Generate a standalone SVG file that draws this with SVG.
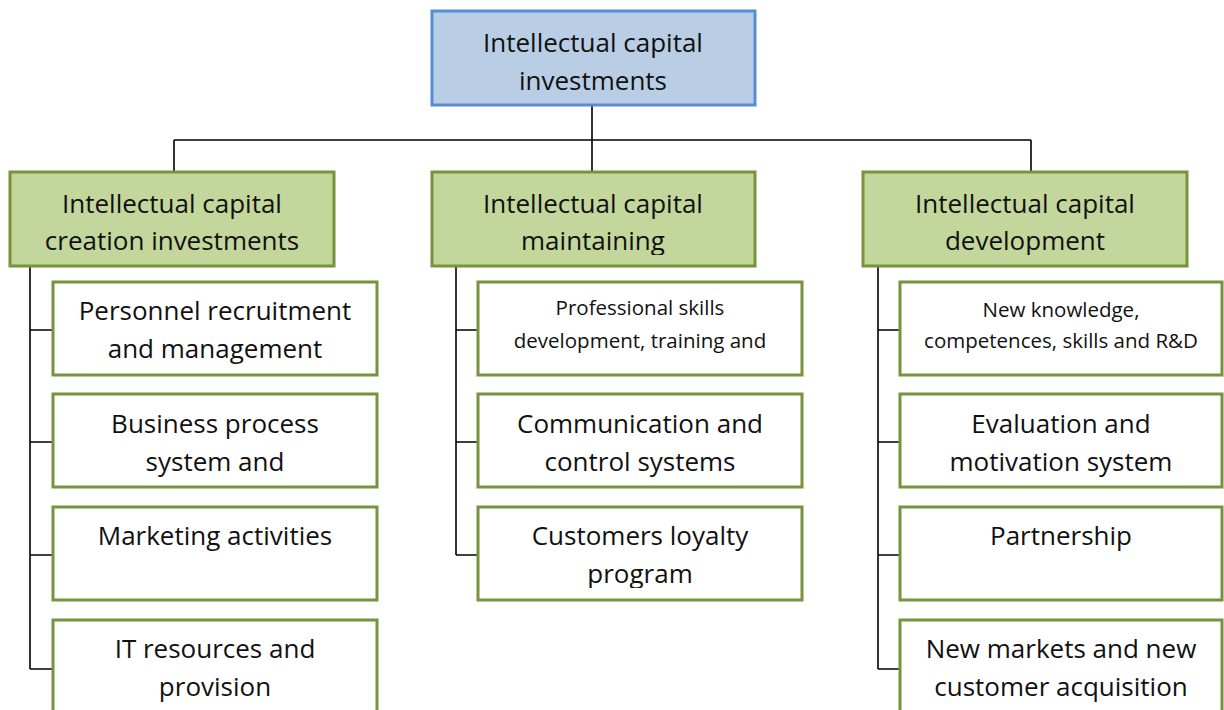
<svg xmlns="http://www.w3.org/2000/svg" width="1224" height="710" viewBox="0 0 1224 710">
  <style>
    .root { fill: #b9cde5; stroke: #558ed5; stroke-width: 3; }
    .cat { fill: #c3d69b; stroke: #77933c; stroke-width: 3; }
    .item { fill: #ffffff; stroke: #77933c; stroke-width: 3; }
    .conn { fill: none; stroke: #000000; stroke-width: 1.6; }
    text { font-family: "Open Sans", Lato, "Liberation Sans", sans-serif; fill: #111111; text-anchor: middle; }
    .lg { font-size: 26px; }
    .sm { font-size: 20.5px; }
  </style>
  <defs>
    <clipPath id="clipCat"><rect x="0" y="172" width="1224" height="83"/></clipPath>
    <clipPath id="clipRow3"><rect x="0" y="506" width="1224" height="82"/></clipPath>
  </defs>

  <!-- connectors -->
  <g id="connectors">
    <path class="conn" d="M592 106 V172 M174 140 H1031 M174 140 V172 M1031 140 V172"/>
    <path class="conn" d="M30 266 V669 M30 330 H53 M30 442 H53 M30 555 H53 M30 669 H53"/>
    <path class="conn" d="M456 266 V555 M456 330 H478 M456 442 H478 M456 555 H478"/>
    <path class="conn" d="M878 266 V669 M878 330 H900 M878 442 H900 M878 555 H900 M878 669 H900"/>
  </g>

  <!-- top node -->
  <g id="ic-investments">
    <rect class="root" x="432" y="11" width="323" height="94"/>
    <text class="lg" x="593" y="52">Intellectual capital</text>
    <text class="lg" x="593" y="90">investments</text>
  </g>

  <!-- category nodes -->
  <g id="ic-creation">
    <rect class="cat" x="10" y="172" width="324" height="94"/>
    <g clip-path="url(#clipCat)">
      <text class="lg" x="172" y="213">Intellectual capital</text>
      <text class="lg" x="172" y="250">creation investments</text>
    </g>
  </g>
  <g id="ic-maintaining">
    <rect class="cat" x="432" y="172" width="323" height="94"/>
    <g clip-path="url(#clipCat)">
      <text class="lg" x="593" y="213">Intellectual capital</text>
      <text class="lg" x="593" y="250">maintaining</text>
    </g>
  </g>
  <g id="ic-development">
    <rect class="cat" x="863" y="172" width="324" height="94"/>
    <g clip-path="url(#clipCat)">
      <text class="lg" x="1025" y="213">Intellectual capital</text>
      <text class="lg" x="1025" y="250">development</text>
    </g>
  </g>

  <!-- creation items -->
  <g id="personnel">
    <rect class="item" x="53" y="282" width="324" height="93"/>
    <text class="lg" x="215" y="320">Personnel recruitment</text>
    <text class="lg" x="215" y="358">and management</text>
  </g>
  <g id="business-process">
    <rect class="item" x="53" y="394" width="324" height="93"/>
    <text class="lg" x="215" y="433">Business process</text>
    <text class="lg" x="215" y="471">system and</text>
  </g>
  <g id="marketing">
    <rect class="item" x="53" y="507" width="324" height="93"/>
    <text class="lg" x="215" y="545">Marketing activities</text>
  </g>
  <g id="it-resources">
    <rect class="item" x="53" y="620" width="324" height="100"/>
    <text class="lg" x="215" y="658">IT resources and</text>
    <text class="lg" x="215" y="696">provision</text>
  </g>

  <!-- maintaining items -->
  <g id="professional-skills">
    <rect class="item" x="478" y="282" width="324" height="93"/>
    <text class="sm" x="640" y="315">Professional skills</text>
    <text class="sm" x="640" y="348">development, training and</text>
  </g>
  <g id="communication">
    <rect class="item" x="478" y="394" width="324" height="93"/>
    <text class="lg" x="640" y="433">Communication and</text>
    <text class="lg" x="640" y="471">control systems</text>
  </g>
  <g id="loyalty">
    <rect class="item" x="478" y="507" width="324" height="93"/>
    <g clip-path="url(#clipRow3)">
      <text class="lg" x="640" y="545">Customers loyalty</text>
      <text class="lg" x="640" y="583">program</text>
    </g>
  </g>

  <!-- development items -->
  <g id="new-knowledge">
    <rect class="item" x="900" y="282" width="322" height="93"/>
    <text class="sm" x="1061" y="317">New knowledge,</text>
    <text class="sm" x="1061" y="348">competences, skills and R&amp;D</text>
  </g>
  <g id="evaluation">
    <rect class="item" x="900" y="394" width="322" height="93"/>
    <text class="lg" x="1061" y="433">Evaluation and</text>
    <text class="lg" x="1061" y="471">motivation system</text>
  </g>
  <g id="partnership">
    <rect class="item" x="900" y="507" width="322" height="93"/>
    <text class="lg" x="1061" y="545">Partnership</text>
  </g>
  <g id="new-markets">
    <rect class="item" x="900" y="620" width="322" height="100"/>
    <text class="lg" x="1061" y="658">New markets and new</text>
    <text class="lg" x="1061" y="696">customer acquisition</text>
  </g>
</svg>
